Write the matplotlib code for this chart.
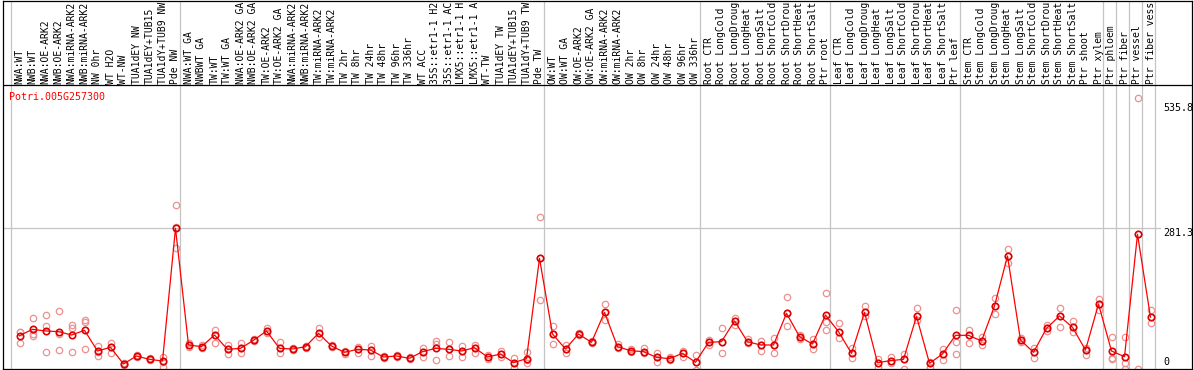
import matplotlib
matplotlib.use("Agg")
import matplotlib.pyplot as plt
import matplotlib.transforms as mtransforms
import numpy as np

gene_id = "Potri.005G257300"

samples = [
    "NWA:WT", "NWB:WT", "NWA:OE-ARK2", "NWB:OE-ARK2", "NWA:miRNA-ARK2", "NWB:miRNA-ARK2",
    "NW 0hr", "WT H2O", "WT-NW", "TUA1dEY NW", "TUA1dEY+TUB15 NW", "TUA1dY+TUB9 NW", "Pde NW",
    "NWA:WT GA", "NWBWT GA", "TW:WT", "TW:WT GA", "NWA:OE-ARK2 GA", "NWB:OE-ARK2 GA",
    "TW:OE-ARK2", "TW:OE-ARK2 GA", "NWA:miRNA-ARK2 GA", "NWB:miRNA-ARK2 GA", "TW:miRNA-ARK2",
    "TW:miRNA-ARK2 GA", "TW 2hr", "TW 8hr", "TW 24hr", "TW 48hr", "TW 96hr", "TW 336hr",
    "WT ACC", "35S::etr1-1 H2O", "35S::etr1-1 ACC", "LMX5::etr1-1 H2O", "LMX5::etr1-1 ACC",
    "WT-TW", "TUA1dEY TW", "TUA1dEY+TUB15 TW", "TUA1dY+TUB9 TW", "Pde TW",
    "OW:WT", "OW:WT GA", "OW:OE-ARK2", "OW:OE-ARK2 GA", "OW:miRNA-ARK2", "OW:miRNA-ARK2 GA",
    "OW 2hr", "OW 8hr", "OW 24hr", "OW 48hr", "OW 96hr", "OW 336hr",
    "Root CTR", "Root LongCold", "Root LongDrought", "Root LongHeat", "Root LongSalt",
    "Root ShortCold", "Root ShortDrought", "Root ShortHeat", "Root ShortSalt", "Ptr root",
    "Leaf CTR", "Leaf LongCold", "Leaf LongDrought", "Leaf LongHeat", "Leaf LongSalt",
    "Leaf ShortCold", "Leaf ShortDrought", "Leaf ShortHeat", "Leaf ShortSalt", "Ptr leaf",
    "Stem CTR", "Stem LongCold", "Stem LongDrought", "Stem LongHeat", "Stem LongSalt",
    "Stem ShortCold", "Stem ShortDrought", "Stem ShortHeat", "Stem ShortSalt", "Ptr shoot",
    "Ptr xylem", "Ptr phloem", "Ptr fiber", "Ptr vessel", "Ptr fiber vessel",
]

group_sizes = [13, 28, 12, 10, 10, 11, 1, 1, 1, 1]

means = [
    71.1, 83.5, 80.3, 79.0, 72.4, 81.6, 41.1, 48.3, 15.7, 31.3, 24.8, 21.5, 281.3,
    52.9, 49.6, 72.4, 44.4, 46.3, 62.0, 80.3, 46.3, 45.0, 49.6, 75.7, 50.9, 38.5, 44.4,
    43.1, 29.4, 31.3, 26.8, 39.8, 46.3, 44.4, 41.1, 47.6, 29.4, 35.2, 18.3, 26.1, 222.5,
    74.4, 45.0, 74.4, 58.1, 116.8, 49.6, 41.8, 39.8, 28.7, 26.1, 36.5, 19.0,
    58.1, 59.4, 99.9, 59.4, 52.9, 52.9, 114.9, 69.2, 54.8, 111.6,
    79.0, 36.5, 116.8, 18.3, 22.2, 24.8, 109.0, 17.0, 35.3, 71.8,
    71.8, 60.7, 129.2, 227.1, 62.7, 38.5, 85.5, 109.6, 87.5, 43.1, 133.1,
    41.1, 30.0, 269.5, 107.1,
]

rep_hi = [
    79.0, 105.1, 111.6, 119.4, 92.0, 101.8, 51.6, 57.4, 18.3, 33.3, 26.8, 30.0, 327.0,
    56.1, 52.2, 82.2, 52.9, 56.1, 64.0, 85.5, 59.4, 47.6, 51.6, 85.5, 53.5, 41.1, 49.6,
    50.9, 31.3, 33.3, 28.7, 46.3, 61.4, 58.1, 51.6, 52.9, 33.3, 41.8, 28.1, 39.8, 302.8,
    90.1, 52.9, 77.0, 60.0, 132.5, 54.2, 44.4, 46.3, 37.9, 28.7, 41.8, 33.3,
    62.7, 85.5, 106.4, 64.0, 60.7, 66.0, 146.2, 72.4, 64.6, 154.0,
    96.6, 47.6, 129.2, 24.8, 28.7, 35.3, 124.7, 20.2, 44.4, 121.4,
    82.2, 67.9, 144.3, 240.2, 66.0, 46.3, 92.0, 124.7, 100.5, 46.3, 142.3,
    67.9, 67.9, 535.8, 121.4,
]

rep_mid = [
    77.7, 74.4, 90.1, 75.1, 85.5, 98.6, 39.8, 49.6, 15.7, 31.3, 24.8, 20.2, 284.5,
    52.9, 49.6, 72.4, 44.4, 46.3, 62.0, 80.3, 46.3, 45.0, 49.6, 75.7, 50.9, 38.5, 44.4,
    43.1, 29.4, 31.3, 26.8, 39.8, 54.8, 44.4, 41.1, 47.6, 29.4, 35.2, 18.3, 23.5, 222.5,
    74.4, 45.0, 74.4, 58.1, 116.8, 49.6, 41.8, 39.8, 28.7, 26.1, 36.5, 19.0,
    58.1, 59.4, 99.9, 59.4, 52.9, 52.9, 114.9, 69.2, 54.8, 98.6,
    79.0, 36.5, 116.8, 18.3, 22.2, 24.8, 109.0, 17.0, 35.3, 59.4,
    71.8, 60.7, 129.2, 227.1, 62.7, 38.5, 85.5, 109.6, 87.5, 43.1, 133.1,
    26.8, 17.0, 269.5, 107.1,
]

rep_lo = [
    56.1, 71.1, 39.8, 42.4, 39.8, 44.4, 32.0, 37.9, 13.1, 29.4, 22.8, 10.4, 242.1,
    49.6, 47.0, 57.4, 35.2, 37.9, 60.0, 75.7, 36.5, 42.4, 47.6, 69.2, 48.3, 35.9, 37.9,
    32.0, 27.4, 29.4, 24.8, 30.0, 23.5, 32.0, 30.0, 37.9, 25.4, 28.7, 7.2, 18.3, 141.0,
    54.2, 36.5, 71.8, 56.1, 101.8, 46.3, 39.2, 36.5, 20.2, 23.5, 30.0, 3.9,
    52.9, 37.9, 92.0, 56.1, 41.8, 37.9, 90.1, 64.0, 44.4, 82.2,
    66.0, 28.1, 109.6, 10.4, 17.0, 5.3, 101.8, 10.5, 23.5, 35.3,
    56.2, 52.9, 112.9, 214.1, 59.4, 26.8, 80.9, 87.5, 77.7, 33.3, 121.4,
    24.8, 5.3, 5.3, 95.3,
]

y_tick_labels = ["535.8", "281.3", "0"]
max_mean = 281.3

# ---------------- layout (pixels) ----------------
W, H = 1194, 370
DPI = 100
fig = plt.figure(figsize=(W / DPI, H / DPI), dpi=DPI)
fig.patch.set_facecolor("white")

left_px, right_px, top_px, bottom_px = 3, 1192, 0.5, 369
ax = fig.add_axes([left_px / W, (H - bottom_px) / H,
                   (right_px - left_px) / W, (bottom_px - top_px) / H])

x0_px, step_px = 19.5, 13.0          # pixel position of first sample, spacing
zero_px, px_per_unit = 372.0, 1 / 1.9577
ax.set_xlim((left_px - x0_px) / step_px, (right_px - x0_px) / step_px)
ax.set_ylim((zero_px - bottom_px) / px_per_unit, (zero_px - top_px) / px_per_unit)
ax.set_xticks([])
ax.set_yticks([])
for sp in ax.spines.values():
    sp.set_color("black")
    sp.set_linewidth(0.9)

mono = "DejaVu Sans Mono"
fs = 7.2
grid_c = "#c4c4c4"

# header separator
header_px = 85
ax.axhline((zero_px - header_px) / px_per_unit, color="black", lw=0.9, zorder=3)

# group boundaries (vertical grid lines)
bounds = np.concatenate([[0], np.cumsum(group_sizes)]) - 0.654
for b in bounds:
    ax.axvline(b, color=grid_c, lw=0.9, zorder=1)

# horizontal grid line at max mean
x_end = (1160 - x0_px) / step_px
ax.plot([ax.get_xlim()[0], x_end], [max_mean, max_mean], color=grid_c, lw=0.9, zorder=1)

x = np.arange(len(samples))

# replicate points
for reps in (rep_hi, rep_mid, rep_lo):
    ax.plot(x, reps, linestyle="none", marker="o", ms=4.6, mfc="none",
            mec="#ee9090", mew=0.9, zorder=2)

# mean line
ax.plot(x, means, color="#ff0000", lw=0.9, marker="o", ms=4.6, mfc="none",
        mec="#dd0000", mew=1.2, zorder=4)

# sample labels in header (the header only has room for 14 characters)
max_chars = 14
trans = mtransforms.blended_transform_factory(ax.transData, fig.transFigure)
for i, s in enumerate(samples):
    fig.text(i, 1 - 84 / H, s[:max_chars].rstrip(), transform=trans, rotation=90,
             ha="center", va="bottom", family=mono, fontsize=7.0, color="black")

# gene title
fig.text(9 / W, 1 - 97 / H, gene_id, color="#ff0000", family=mono, fontsize=fs,
         ha="left", va="center")

# right side value labels
for lab, ypx in zip(y_tick_labels, [107.7, 232.7, 362.3]):
    fig.text(1163 / W, 1 - ypx / H, lab, family=mono, fontsize=fs, ha="left",
             va="center", color="black")

fig.savefig("out.png", dpi=DPI, facecolor="white")
